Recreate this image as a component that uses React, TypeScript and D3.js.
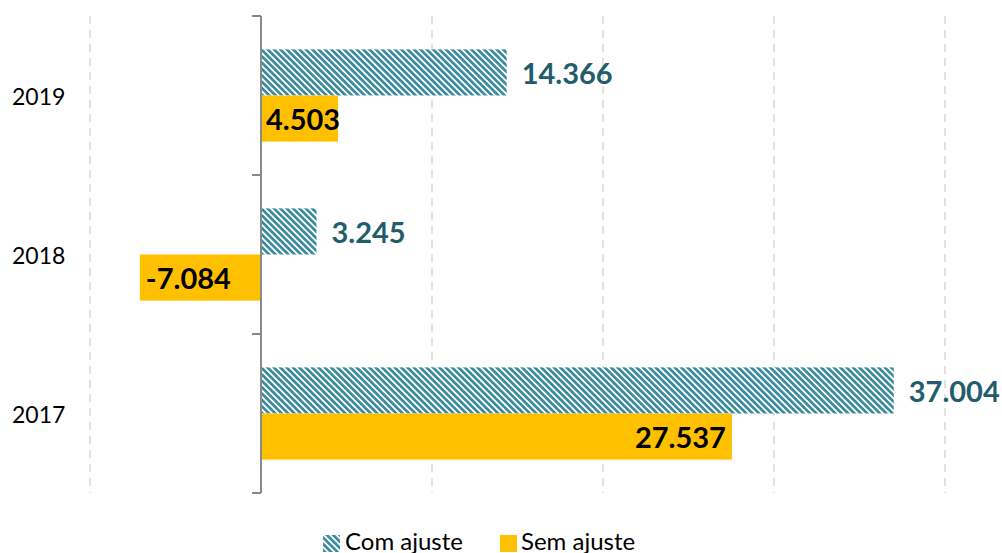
import React from "react";
import * as d3 from "d3";

const categories = ["2019", "2018", "2017"];
const seriesNames = ["Com ajuste", "Sem ajuste"];
const comAjuste = [14.366, 3.245, 37.004];
const semAjuste = [4.503, -7.084, 27.537];
const gridTicks = [-10, 0, 10, 20, 30, 40];

const W = 1002;
const H = 553;
const TEAL = "#3a8b9d";
const YELLOW = "#ffc000";
const LABEL_TEAL = "#215d6c";
const FONT = "Lato, 'Open Sans', sans-serif";

function fmt(v: number) {
  return v.toFixed(3);
}

export default function App() {
  const x = d3.scaleLinear().domain([-10, 40]).range([90, 945]);
  const y = d3
    .scaleBand<string>()
    .domain(categories)
    .range([16, 493])
    .paddingInner(0.42)
    .paddingOuter(0.21);
  const sub = d3
    .scaleBand<string>()
    .domain(seriesNames)
    .range([0, y.bandwidth()]);
  const x0 = x(0);
  const top = 16;
  const bottom = 493;
  const step = y.step();
  const boundaries = [0, 1, 2, 3].map((i) => top + i * step);

  return (
    <svg
      width={W}
      height={H}
      style={{ position: "absolute", left: 0, top: 0, background: "#fff" }}
      fontFamily={FONT}
    >
      <defs>
        <pattern
          id="hatch"
          patternUnits="userSpaceOnUse"
          width={4.5}
          height={4.5}
          patternTransform="rotate(-45)"
        >
          <rect width={4.5} height={4.5} fill="#ffffff" />
          <rect width={2.7} height={4.5} fill={TEAL} />
        </pattern>
      </defs>
      {gridTicks
        .filter((t) => t !== 0)
        .map((t) => (
          <line
            key={t}
            x1={x(t)}
            x2={x(t)}
            y1={top}
            y2={bottom}
            stroke="#d9d9d9"
            strokeWidth={1.5}
            strokeDasharray="8,6"
          />
        ))}
      {categories.map((c, i) => {
        const by = y(c)!;
        const vCom = comAjuste[i];
        const vSem = semAjuste[i];
        const yCom = by + sub("Com ajuste")!;
        const ySem = by + sub("Sem ajuste")!;
        const h = sub.bandwidth();
        return (
          <g key={c}>
            <rect
              x={Math.min(x(vCom), x0)}
              y={yCom}
              width={Math.abs(x(vCom) - x0)}
              height={h}
              fill="url(#hatch)"
            />
            <rect
              x={Math.min(x(vSem), x0)}
              y={ySem}
              width={Math.abs(x(vSem) - x0)}
              height={h}
              fill={YELLOW}
            />
            <text
              x={x(vCom) + 15}
              y={yCom + h / 2}
              dominantBaseline="central"
              fontSize={29}
              fontWeight="bold"
              fill={LABEL_TEAL}
            >
              {fmt(vCom)}
            </text>
            {(() => {
              let tx: number;
              let anchor: "start" | "end";
              if (vSem < 0) {
                tx = x(vSem) + 6;
                anchor = "start";
              } else if (x(vSem) - x0 > 120) {
                tx = x(vSem) - 6;
                anchor = "end";
              } else {
                tx = x0 + 5;
                anchor = "start";
              }
              return (
                <text
                  x={tx}
                  y={ySem + h / 2}
                  dominantBaseline="central"
                  textAnchor={anchor}
                  fontSize={29}
                  fontWeight="bold"
                  fill="#000"
                >
                  {fmt(vSem)}
                </text>
              );
            })()}
            <text
              x={12}
              y={by + y.bandwidth() / 2}
              dominantBaseline="central"
              fontSize={23}
              fill="#000"
            >
              {c}
            </text>
          </g>
        );
      })}
      <line x1={x0} x2={x0} y1={top} y2={bottom} stroke="#898989" strokeWidth={2} />
      {boundaries.map((b, i) => (
        <line key={i} x1={x0 - 9} x2={x0} y1={b} y2={b} stroke="#898989" strokeWidth={2} />
      ))}
      <g>
        <rect x={323} y={535} width={17} height={17} fill="url(#hatch)" />
        <text x={345} y={550} fontSize={24} fill="#000">
          {seriesNames[0]}
        </text>
        <rect x={500} y={535} width={17} height={17} fill={YELLOW} />
        <text x={521} y={550} fontSize={24} fill="#000">
          {seriesNames[1]}
        </text>
      </g>
    </svg>
  );
}
